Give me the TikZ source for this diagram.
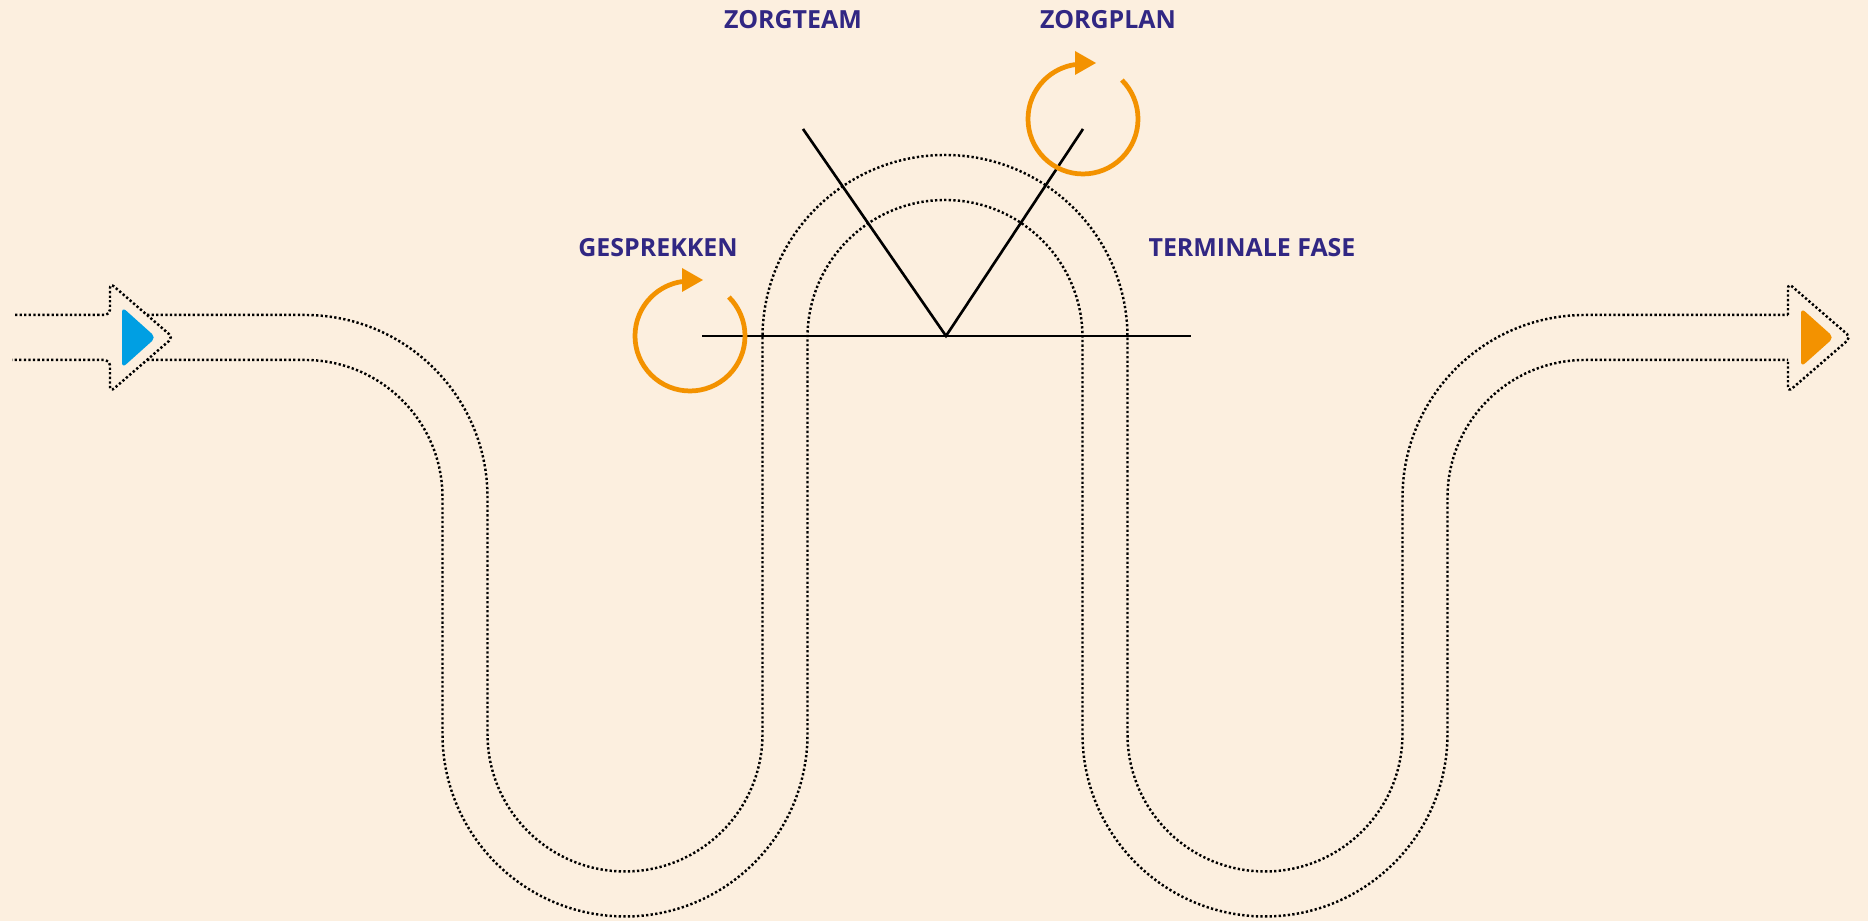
\documentclass[tikz,border=0pt]{standalone}
\usepackage{fontspec}
\setsansfont{Open Sans}
\usepackage{tikz}

\definecolor{bgpeach}{RGB}{252,239,223}
\definecolor{labelblue}{RGB}{49,39,131}
\definecolor{zorgorange}{RGB}{243,146,0}
\definecolor{startblue}{RGB}{0,159,227}

\tikzset{
	track/.style={line width=0.7pt, dash pattern=on 0.65pt off 0.65pt},
	frame/.style={line width=0.75pt},
	loopline/.style={zorgorange, line width=1.35pt},
	headtext/.style={text=labelblue, inner sep=0pt, font=\sffamily\bfseries\fontsize{7.1}{8}\selectfont}
}

\begin{document}
\begin{tikzpicture}[x=0.1mm, y=0.1mm]
		\fill[bgpeach] (0, 0) rectangle (1868, 921);
		\useasboundingbox (0, 0) rectangle (1868, 921);
		% Winding track: its two dotted edges.
		\draw[track] (147, 606) -- (305, 606) arc (90:0:182.5) -- (487.5, 187)
			arc (180:360:137.5) -- (762.5, 583.5) arc (180:0:182.5) -- (1127.5, 187)
			arc (180:360:137.5) -- (1402.5, 423.5) arc (180:90:182.5) -- (1788, 606);
		\draw[track] (147, 561) -- (305, 561) arc (90:0:137.5) -- (442.5, 187)
			arc (180:360:182.5) -- (807.5, 583.5) arc (180:0:137.5) -- (1082.5, 187)
			arc (180:360:182.5) -- (1447.5, 423.5) arc (180:90:137.5) -- (1788, 561);
		% Start and end arrows.
		\draw[track, rounded corners=1.5pt] (15, 606) -- (110, 606) -- (110, 638) -- (173, 583.5)
			-- (110, 529) -- (110, 561) -- (12, 561);
		\draw[track, rounded corners=1.5pt] (1788, 606) -- (1788, 638) -- (1851, 583.5)
			-- (1788, 529) -- (1788, 561);
		\fill[startblue, rounded corners=1.5pt] (122, 614) -- (156, 583.5) -- (122, 553) -- cycle;
		\fill[zorgorange, rounded corners=1.5pt] (1801, 613) -- (1834, 583.5) -- (1801, 554) -- cycle;
		% Fork at the top of the bend.
		\coordinate (apex) at (946, 585);
		\coordinate (teamtop) at (803, 792);
		\coordinate (plantop) at (1083, 792);
		\draw[frame] (702, 585) -- (1191, 585);
		\draw[frame] (teamtop) -- (apex) -- (plantop);
		% Orange cycles.
		\foreach \cx/\cy in {690/585, 1083/802} {
			\draw[loopline] (\cx, \cy) ++(45:55) arc (45:-261.7:55);
			\fill[zorgorange] (\cx - 8, \cy + 44) -- (\cx + 13, \cy + 56) -- (\cx - 8, \cy + 68) -- cycle;
		}
		\node[headtext] (zorgteam) at (793, 901) {ZORGTEAM};
		\node[headtext] (zorgplan) at (1108, 901) {ZORGPLAN};
		\node[headtext] (gesprekken) at (658, 673) {GESPREKKEN};
		\node[headtext] (terminaal) at (1252, 673) {TERMINALE FASE};
	\end{tikzpicture}
\end{document}
